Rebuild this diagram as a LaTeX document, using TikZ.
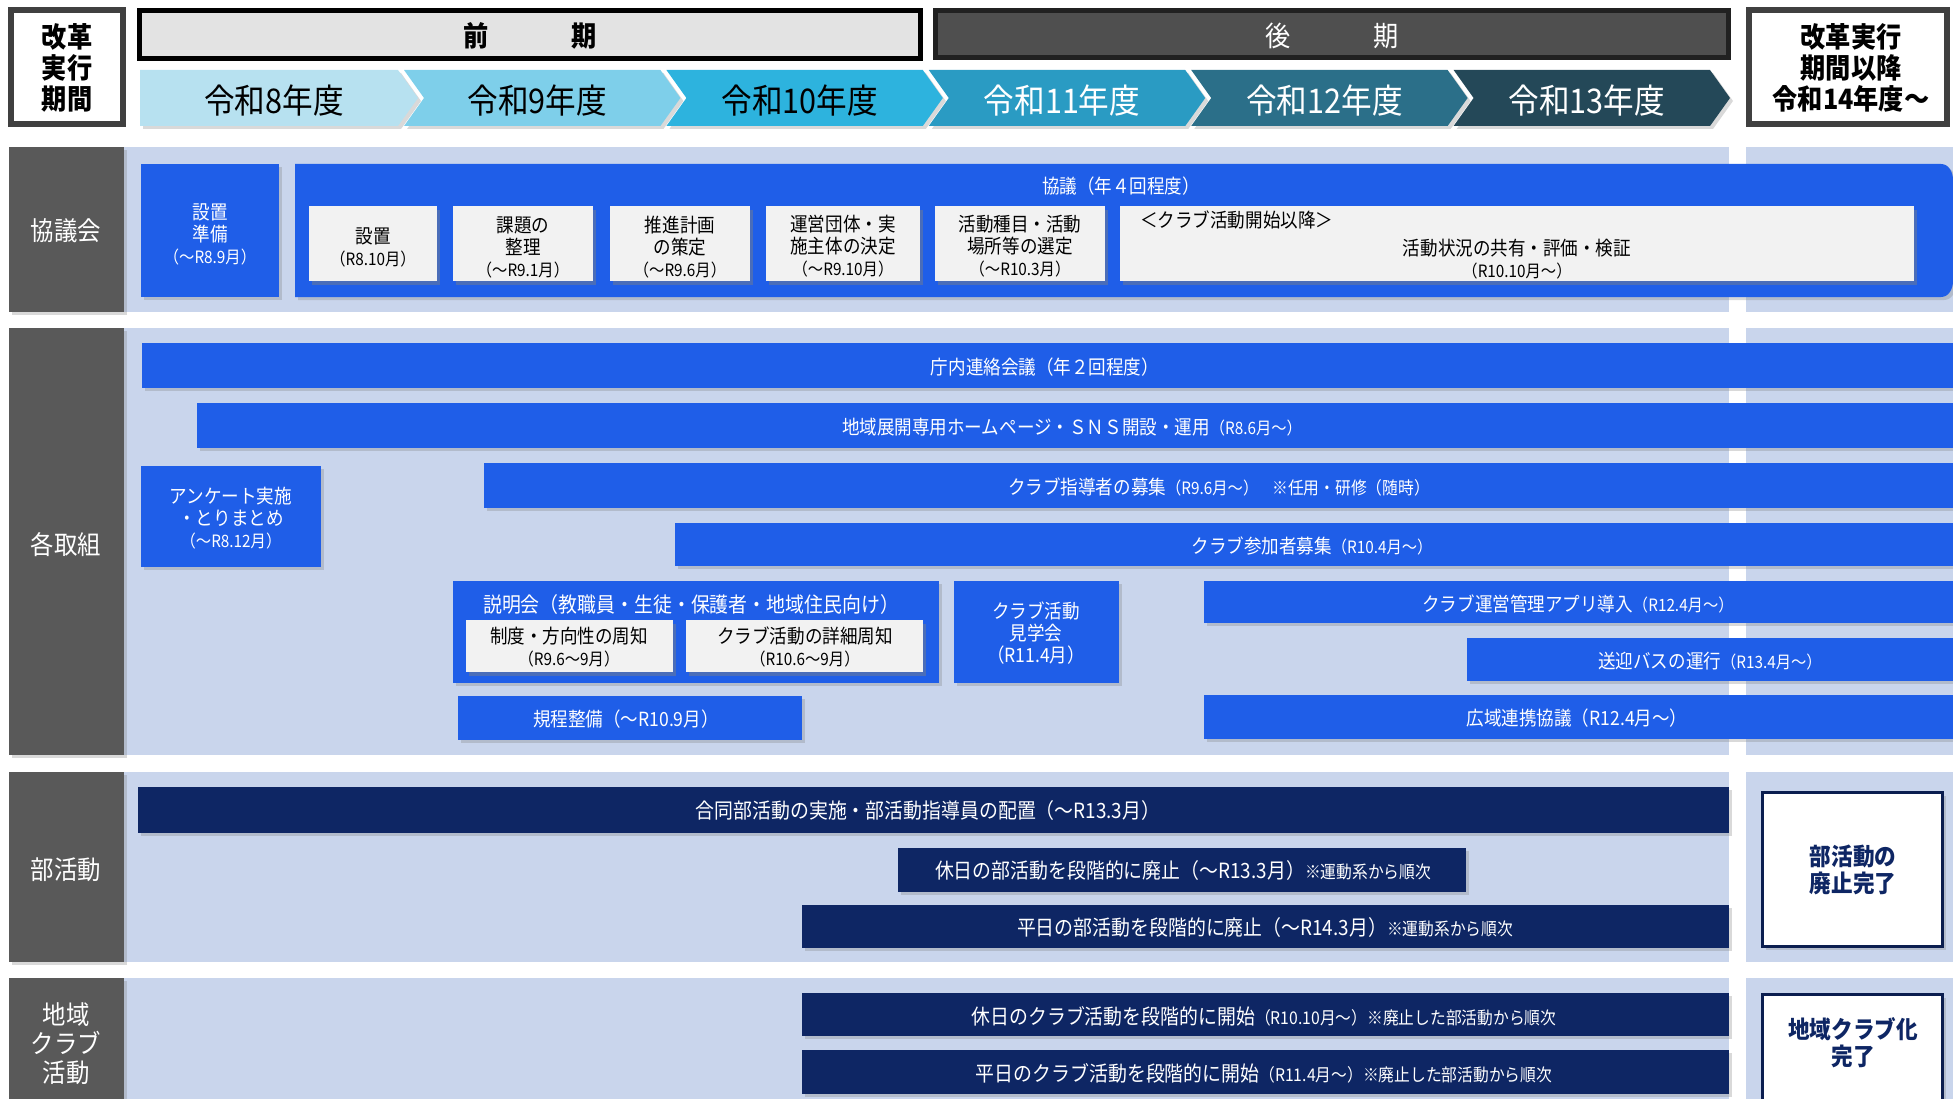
\documentclass[tikz,border=0pt]{standalone}
\usepackage{fontspec}
\setmainfont{Noto Sans CJK JP}[FakeStretch=0.9]
\usepackage{tikz}
\usetikzlibrary{calc}
\usetikzlibrary{shadows}

\definecolor{barblue}{RGB}{31,94,232}
\definecolor{barnavy}{RGB}{14,38,100}
\definecolor{bandblue}{RGB}{201,213,236}
\definecolor{labgray}{RGB}{89,89,89}
\definecolor{boxwhite}{RGB}{242,242,242}
\definecolor{yrA}{RGB}{183,225,240}
\definecolor{yrB}{RGB}{126,207,234}
\definecolor{yrC}{RGB}{45,179,222}
\definecolor{yrD}{RGB}{42,155,195}
\definecolor{yrE}{RGB}{43,111,137}
\definecolor{yrF}{RGB}{36,72,88}

\newcommand{\fhead}{\fontsize{28}{31}\selectfont}
\newcommand{\fyear}{\fontsize{34}{36}\selectfont}
\newcommand{\flab}{\fontsize{26}{29}\selectfont}
\newcommand{\fend}{\fontsize{24}{27}\selectfont}
\newcommand{\fmain}{\fontsize{19.5}{22}\selectfont}
\newcommand{\fnavy}{\fontsize{21}{23}\selectfont}
\newcommand{\fdate}{\fontsize{17}{18}\selectfont}
\newcommand{\fnote}{\fontsize{17.5}{19}\selectfont}

\begin{document}
\begin{tikzpicture}[x=1pt,y=-1pt,
    shd/.style={drop shadow={shadow xshift=3pt,shadow yshift=-3pt,opacity=0.3}},
    frame/.style={draw=black!75,line width=6pt,fill=white,shd},
    bluebox/.style={fill=barblue,shd},
    navybox/.style={fill=barnavy,shd},
    whitebox/.style={fill=boxwhite,drop shadow={shadow xshift=3pt,shadow yshift=-4pt,opacity=0.45}},
    labelbox/.style={fill=labgray,shd},
    band/.style={fill=bandblue},
    wtext/.style={text=white,align=center,inner sep=0pt,font=\fmain},
    btext/.style={text=black,align=center,inner sep=0pt,font=\fmain},
    endbox/.style={draw=barnavy!80!black,line width=3pt,fill=white,shd},
    endtext/.style={text=barnavy,align=center,inner sep=0pt,font=\fend\bfseries}
  ]
    \useasboundingbox (0,0) rectangle (1953,1099);
    \clip (0,0) rectangle (1953,1099);

    \draw[frame] (11,10) rectangle (123,124);
    \node[btext,font=\fhead\bfseries] (kaikaku) at (67,68) {改革\\実行\\期間};
    \draw[line width=5pt,draw=black,fill=black!11] (139.5,10.5) rectangle (920.5,58.5);
    \node[btext,font=\fhead\bfseries] (zenki) at (530,36) {前\hspace{82pt}期};
    \draw[line width=5pt,draw=black!87,fill=black!69] (935.5,10.5) rectangle (1728.5,57.5);
    \node[wtext,font=\fhead] (kouki) at (1332,36) {後\hspace{82pt}期};
    \draw[frame] (1749,10) rectangle (1947,124);
    \node[btext,font=\fhead\bfseries] (ikou) at (1851,68) {改革実行\\期間以降\\令和14年度～};

    \foreach \i/\yc/\yt/\tc in {1/yrA/令和8年度/black,2/yrB/令和9年度/black,3/yrC/令和10年度/black,
                                 4/yrD/令和11年度/white,5/yrE/令和12年度/white,6/yrF/令和13年度/white}{
      \pgfmathsetmacro{\tip}{418+262.4*(\i-1)}
      \pgfmathsetmacro{\lft}{\i==1 ? 140 : \tip-276.4}
      \pgfmathsetmacro{\notch}{\i==1 ? 0 : 20}
      \fill[\yc,shd] (\lft,70) -- (\tip-20,70) -- (\tip,98) -- (\tip-20,126) -- (\lft,126) -- (\lft+\notch,98) -- cycle;
      \node[text=\tc,inner sep=0pt,font=\fyear] (year\i) at ({(\lft+\tip)/2-5},101) {\yt};
    }

    \foreach \ya/\yb in {147/312,328/755,772/962,978/1110}{
      \fill[band] (124,\ya) rectangle (1729,\yb);
      \fill[band] (1746,\ya) rectangle (1960,\yb);
      \fill[labelbox] (9,\ya) rectangle (124,\yb);
    }
    \node[wtext,font=\flab] (lkyogi) at (66,231) {協議会};
    \node[wtext,font=\flab] (ltorikumi) at (66,545) {各取組};
    \node[wtext,font=\flab] (lbukatsu) at (66,870) {部活動};
    \node[wtext,font=\flab] (lchiiki) at (66,1044) {地域\\クラブ\\活動};

    % 協議会
    \fill[bluebox] (141,164) rectangle (279,297);
    \node[wtext] (junbi) at (210,234) {設置\\準備\\{\fdate（～R8.9月）}};
    \fill[bluebox] (295,164) -- (1941,164) to[out=0,in=90] (1953,180) -- (1953,281) to[out=-90,in=0] (1941,297) -- (295,297) -- cycle;
    \node[wtext] (kyogi) at (1121,186) {協議（年４回程度）};
    \fill[whitebox] (309,206) rectangle (437,281);
    \node[btext] (setchi) at (373,247) {設置\\{\fdate（R8.10月）}};
    \fill[whitebox] (453,206) rectangle (593,281);
    \node[btext] (kadai) at (523,247) {課題の\\整理\\{\fdate（～R9.1月）}};
    \fill[whitebox] (610,206) rectangle (750,281);
    \node[btext] (suishin) at (680,247) {推進計画\\の策定\\{\fdate（～R9.6月）}};
    \fill[whitebox] (766,206) rectangle (920,281);
    \node[btext] (unei) at (843,246) {運営団体・実\\施主体の決定\\{\fdate（～R9.10月）}};
    \fill[whitebox] (935,206) rectangle (1105,281);
    \node[btext] (shumoku) at (1020,246) {活動種目・活動\\場所等の選定\\{\fdate（～R10.3月）}};
    \fill[whitebox] (1120,206) rectangle (1914,281);
    \node[btext,anchor=west] (kaishi) at (1140,220) {＜クラブ活動開始以降＞};
    \node[btext] (hyoka) at (1517,259) {活動状況の共有・評価・検証\\{\fdate（R10.10月～）}};

    % 各取組
    \fill[bluebox] (142,343) rectangle (1960,388);
    \node[wtext] (chonai) at (1045,367) {庁内連絡会議（年２回程度）};
    \fill[bluebox] (197,403) rectangle (1960,448);
    \node[wtext] (hp) at (1072,427) {地域展開専用ホームページ・ＳＮＳ開設・運用{\fdate（R8.6月～）}};
    \fill[bluebox] (484,463) rectangle (1960,508);
    \node[wtext] (shido) at (1219,487) {クラブ指導者の募集{\fdate（R9.6月～）}\hspace{14pt}{\fnote ※任用・研修（随時）}};
    \fill[bluebox] (675,523) rectangle (1960,566);
    \node[wtext] (sanka) at (1312,546) {クラブ参加者募集{\fdate（R10.4月～）}};
    \fill[bluebox] (141,466) rectangle (321,567);
    \node[wtext] (enquete) at (231,518) {アンケート実施\\・とりまとめ\\{\fdate（～R8.12月）}};
    \fill[bluebox] (453,581) rectangle (939,683);
    \node[wtext,font=\fnavy] (setsumei) at (691,605) {説明会（教職員・生徒・保護者・地域住民向け）};
    \fill[whitebox] (466,620) rectangle (673,672);
    \node[btext] (seido) at (569,647) {制度・方向性の周知\\{\fdate（R9.6～9月）}};
    \fill[whitebox] (686,620) rectangle (923,672);
    \node[btext] (shosai) at (805,647) {クラブ活動の詳細周知\\{\fdate（R10.6～9月）}};
    \fill[bluebox] (954,581) rectangle (1119,683);
    \node[wtext] (kengaku) at (1036,633) {クラブ活動\\見学会\\（R11.4月）};
    \fill[bluebox] (458,696) rectangle (802,740);
    \node[wtext] (kitei) at (626,719) {規程整備（～R10.9月）};
    \fill[bluebox] (1204,581) rectangle (1960,623);
    \node[wtext] (app) at (1578,604) {クラブ運営管理アプリ導入{\fdate（R12.4月～）}};
    \fill[bluebox] (1467,638) rectangle (1960,681);
    \node[wtext] (bus) at (1710,661) {送迎バスの運行{\fdate（R13.4月～）}};
    \fill[bluebox] (1204,695) rectangle (1960,739);
    \node[wtext] (koiki) at (1577,718) {広域連携協議（R12.4月～）};

    % 部活動
    \fill[navybox] (138,787) rectangle (1729,833);
    \node[wtext,font=\fnavy] (godo) at (928,811) {合同部活動の実施・部活動指導員の配置（～R13.3月）};
    \fill[navybox] (898,848) rectangle (1466,892);
    \node[wtext,font=\fnavy] (kyujitsu) at (1183,871) {休日の部活動を段階的に廃止（～R13.3月）{\fnote※運動系から順次}};
    \fill[navybox] (802,905) rectangle (1729,948);
    \node[wtext,font=\fnavy] (heijitsu) at (1265,928) {平日の部活動を段階的に廃止（～R14.3月）{\fnote※運動系から順次}};
    \draw[endbox] (1762.5,792.5) rectangle (1942.5,946.5);
    \node[endtext] (haishi) at (1853,870) {部活動の\\廃止完了};

    % 地域クラブ活動
    \fill[navybox] (802,993) rectangle (1729,1036);
    \node[wtext,font=\fnavy] (kyujitsuclub) at (1264,1016) {休日のクラブ活動を段階的に開始{\fnote（R10.10月～）※廃止した部活動から順次}};
    \fill[navybox] (802,1050) rectangle (1729,1094);
    \node[wtext,font=\fnavy] (heijitsuclub) at (1264,1073) {平日のクラブ活動を段階的に開始{\fnote（R11.4月～）※廃止した部活動から順次}};
    \draw[endbox] (1762.5,994.5) rectangle (1942.5,1115);
    \node[endtext] (kanryo) at (1853,1043) {地域クラブ化\\完了};
\end{tikzpicture}
\end{document}
